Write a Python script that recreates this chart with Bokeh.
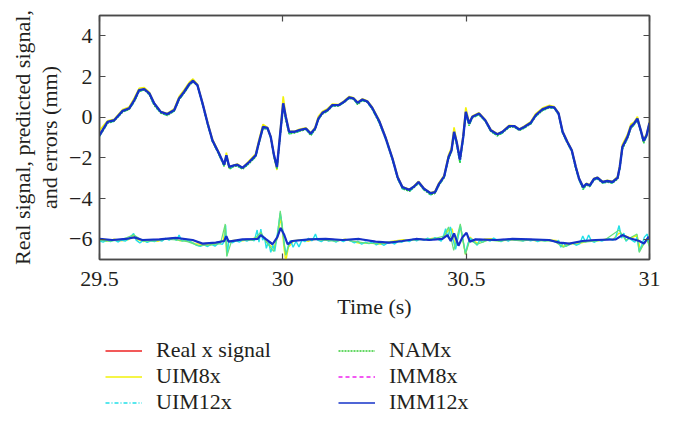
from bokeh.plotting import figure
from bokeh.models import LinearAxis, FixedTicker, Legend, LegendItem, Title, Range1d
from bokeh.layouts import column
from bokeh.embed import file_html
from bokeh.resources import INLINE

# ---------------- data ----------------
x_ticks = [29.5, 30, 30.5, 31]
x_tick_labels = ["29.5", "30", "30.5", "31"]
y_ticks = [-6, -4, -2, 0, 2, 4]
y_tick_labels = ["\u22126", "\u22124", "\u22122", "0", "2", "4"]

t_sig = [29.500, 29.522, 29.540, 29.563, 29.581, 29.595, 29.608, 29.622, 29.636, 29.649,
         29.667, 29.685, 29.704, 29.717, 29.731, 29.745, 29.755, 29.767, 29.781, 29.795,
         29.808, 29.826, 29.840, 29.846, 29.854, 29.867, 29.876, 29.890, 29.908, 29.926,
         29.935, 29.946, 29.958, 29.967, 29.976, 29.984, 29.992, 30.001, 30.008, 30.017,
         30.031, 30.045, 30.063, 30.076, 30.088, 30.097, 30.108, 30.122, 30.135, 30.152,
         30.167, 30.181, 30.193, 30.204, 30.217, 30.231, 30.244, 30.263, 30.281, 30.299,
         30.313, 30.326, 30.345, 30.358, 30.370, 30.385, 30.403, 30.415, 30.426, 30.440,
         30.452, 30.460, 30.467, 30.474, 30.483, 30.492, 30.499, 30.508, 30.517, 30.535,
         30.552, 30.567, 30.585, 30.599, 30.617, 30.631, 30.645, 30.658, 30.676, 30.690,
         30.708, 30.726, 30.740, 30.752, 30.763, 30.776, 30.788, 30.799, 30.808, 30.819,
         30.828, 30.837, 30.849, 30.858, 30.872, 30.885, 30.899, 30.913, 30.919, 30.926,
         30.940, 30.949, 30.958, 30.967, 30.976, 30.984, 30.992, 31.000]

real_x = [-0.89, -0.23, -0.15, 0.31, 0.43, 0.84, 1.33, 1.38, 1.17, 0.68,
          0.26, 0.15, 0.35, 0.92, 1.25, 1.63, 1.79, 1.58, 0.68, -0.31,
          -1.14, -1.79, -2.34, -1.88, -2.45, -2.37, -2.34, -2.49, -2.21, -1.88,
          -1.22, -0.48, -0.53, -0.97, -1.88, -2.45, -0.97, 0.68, 0.02, -0.72,
          -0.72, -0.64, -0.56, -0.81, -0.56, -0.07, 0.21, 0.35, 0.59, 0.59,
          0.76, 0.97, 0.92, 0.71, 0.87, 0.76, 0.45, -0.20, -1.05, -2.04,
          -2.95, -3.44, -3.57, -3.41, -3.19, -3.52, -3.74, -3.69, -3.28, -2.91,
          -1.96, -1.63, -0.72, -1.22, -2.09, -0.97, 0.26, -0.31, 0.02, 0.18,
          -0.15, -0.64, -0.84, -0.72, -0.44, -0.44, -0.61, -0.48, -0.28, 0.10,
          0.38, 0.51, 0.48, 0.18, -0.72, -1.22, -1.63, -2.45, -3.03, -3.44,
          -3.28, -3.36, -3.03, -2.98, -3.19, -3.14, -3.19, -2.98, -2.45, -1.47,
          -0.97, -0.48, -0.31, -0.07, -0.64, -1.17, -0.89, -0.28]

uim8_x = [-0.65, -0.18, -0.10, 0.38, 0.50, 0.95, 1.42, 1.46, 1.22, 0.70,
          0.28, 0.18, 0.42, 1.02, 1.35, 1.72, 1.88, 1.62, 0.72, -0.25,
          -1.08, -1.74, -2.40, -1.75, -2.50, -2.35, -2.30, -2.50, -2.15, -1.80,
          -1.10, -0.35, -0.50, -0.95, -1.95, -2.60, -0.85, 1.02, 0.10, -0.70,
          -0.70, -0.60, -0.52, -0.78, -0.50, 0.05, 0.28, 0.42, 0.64, 0.62,
          0.80, 1.02, 0.95, 0.74, 0.90, 0.80, 0.50, -0.15, -1.00, -2.00,
          -2.90, -3.42, -3.55, -3.38, -3.15, -3.50, -3.72, -3.65, -3.22, -2.85,
          -1.85, -1.50, -0.50, -1.15, -2.00, -0.85, 0.48, -0.25, 0.06, 0.22,
          -0.12, -0.60, -0.82, -0.70, -0.40, -0.42, -0.58, -0.44, -0.22, 0.18,
          0.45, 0.58, 0.52, 0.22, -0.68, -1.18, -1.60, -2.40, -3.00, -3.42,
          -3.25, -3.32, -3.00, -2.95, -3.16, -3.10, -3.15, -2.92, -2.35, -1.35,
          -0.85, -0.35, -0.25, 0.02, -0.60, -1.12, -0.82, -0.22]

uim12_x = [-0.95, -0.30, -0.20, 0.25, 0.38, 0.76, 1.26, 1.34, 1.10, 0.58,
           0.20, 0.08, 0.30, 0.85, 1.18, 1.56, 1.74, 1.55, 0.62, -0.38,
           -1.20, -1.86, -2.42, -1.95, -2.55, -2.42, -2.40, -2.56, -2.28, -1.95,
           -1.30, -0.55, -0.58, -1.02, -1.95, -2.55, -1.08, 0.55, -0.15, -0.82,
           -0.78, -0.70, -0.60, -0.90, -0.62, -0.12, 0.15, 0.30, 0.54, 0.55,
           0.72, 0.92, 0.88, 0.62, 0.82, 0.72, 0.38, -0.28, -1.12, -2.10,
           -3.02, -3.52, -3.65, -3.46, -3.25, -3.58, -3.82, -3.75, -3.34, -2.98,
           -2.05, -1.72, -0.85, -1.35, -2.25, -1.08, 0.15, -0.42, -0.04, 0.12,
           -0.20, -0.70, -0.92, -0.78, -0.50, -0.48, -0.66, -0.54, -0.34, 0.04,
           0.32, 0.46, 0.44, 0.12, -0.80, -1.28, -1.70, -2.55, -3.10, -3.55,
           -3.34, -3.42, -3.08, -3.04, -3.24, -3.20, -3.24, -3.05, -2.55, -1.58,
           -1.05, -0.56, -0.38, -0.14, -0.70, -1.28, -0.96, -0.34]

nam_x = list(uim12_x)
imm8_x = list(real_x)
imm12_x = list(real_x)

t_err_uim12 = [29.500, 29.510, 29.520, 29.530, 29.540, 29.550, 29.560, 29.570, 29.580, 29.593,
               29.600, 29.610, 29.620, 29.630, 29.640, 29.650, 29.660, 29.670, 29.680, 29.690,
               29.700, 29.710, 29.717, 29.725, 29.735, 29.745, 29.755, 29.765, 29.775, 29.785,
               29.795, 29.805, 29.815, 29.825, 29.835, 29.841, 29.844, 29.848, 29.853, 29.862,
               29.872, 29.882, 29.892, 29.902, 29.912, 29.922, 29.930, 29.935, 29.940, 29.945,
               29.950, 29.955, 29.961, 29.967, 29.973, 29.978, 29.983, 29.988, 29.993, 29.998,
               30.004, 30.009, 30.015, 30.021, 30.028, 30.036, 30.044, 30.052, 30.060, 30.070,
               30.080, 30.089, 30.095, 30.105, 30.115, 30.125, 30.135, 30.145, 30.155, 30.165,
               30.175, 30.185, 30.195, 30.205, 30.215, 30.225, 30.235, 30.245, 30.255, 30.265,
               30.275, 30.285, 30.295, 30.305, 30.315, 30.325, 30.335, 30.345, 30.355, 30.365,
               30.375, 30.385, 30.395, 30.405, 30.415, 30.425, 30.432, 30.438, 30.444, 30.450,
               30.457, 30.464, 30.471, 30.478, 30.484, 30.490, 30.498, 30.505, 30.512, 30.520,
               30.530, 30.537, 30.545, 30.555, 30.565, 30.575, 30.585, 30.595, 30.605, 30.615,
               30.625, 30.635, 30.645, 30.655, 30.665, 30.675, 30.685, 30.695, 30.705, 30.715,
               30.725, 30.735, 30.745, 30.752, 30.758, 30.765, 30.772, 30.780, 30.790, 30.800,
               30.810, 30.818, 30.826, 30.834, 30.842, 30.850, 30.860, 30.870, 30.880, 30.890,
               30.900, 30.908, 30.917, 30.924, 30.930, 30.936, 30.944, 30.952, 30.960, 30.966,
               30.972, 30.979, 30.986, 30.994, 31.000]
err_uim12 = [-6.08, -6.15, -6.05, -6.12, -6.02, -6.14, -6.04, -6.10, -5.98, -5.72,
             -6.05, -6.18, -6.06, -6.16, -6.08, -6.12, -6.02, -6.10, -5.96, -6.05,
             -5.92, -6.06, -5.80, -6.10, -6.02, -6.10, -6.20, -6.30, -6.35, -6.28,
             -6.36, -6.25, -6.34, -6.20, -6.26, -6.10, -5.32, -6.80, -6.05, -6.18,
             -6.08, -6.14, -6.02, -6.10, -6.00, -6.08, -5.55, -6.15, -5.50, -6.05,
             -5.90, -6.45, -6.10, -6.65, -6.30, -6.60, -6.00, -5.40, -4.70, -5.30,
             -6.30, -6.75, -6.30, -6.05, -6.40, -6.10, -6.38, -6.05, -6.12, -5.96,
             -6.08, -5.75, -6.05, -6.12, -6.00, -6.10, -6.05, -6.14, -6.04, -6.12,
             -6.02, -6.08, -6.18, -6.10, -6.25, -6.15, -6.22, -6.12, -6.28, -6.18,
             -6.30, -6.20, -6.15, -6.24, -6.10, -6.15, -6.05, -6.12, -6.00, -6.08,
             -5.98, -6.06, -5.95, -6.04, -5.92, -6.02, -6.10, -5.85, -5.48, -5.90,
             -5.40, -6.00, -6.50, -5.90, -5.33, -5.90, -6.70, -6.20, -5.95, -6.10,
             -6.30, -6.05, -6.15, -6.02, -6.10, -5.95, -6.05, -6.12, -6.02, -6.10,
             -5.98, -6.06, -6.02, -6.10, -6.00, -6.08, -6.04, -6.12, -6.05, -6.10,
             -6.02, -6.08, -6.15, -6.05, -6.40, -6.15, -6.35, -6.28, -6.18, -6.30,
             -6.22, -5.85, -6.15, -5.80, -6.10, -6.15, -6.05, -6.10, -6.02, -5.98,
             -6.05, -5.90, -5.33, -5.95, -5.70, -6.10, -5.95, -6.05, -6.15, -5.90,
             -6.60, -6.30, -5.90, -5.75, -6.35]

t_err_uim8 = [29.50, 29.52, 29.54, 29.56, 29.58, 29.593, 29.60, 29.62, 29.64, 29.66,
              29.68, 29.70, 29.72, 29.74, 29.76, 29.78, 29.80, 29.82, 29.838, 29.843,
              29.847, 29.852, 29.87, 29.89, 29.91, 29.93, 29.94, 29.955, 29.965, 29.975,
              29.985, 29.995, 30.003, 30.008, 30.015, 30.03, 30.05, 30.07, 30.09, 30.11,
              30.13, 30.15, 30.17, 30.19, 30.21, 30.23, 30.25, 30.27, 30.29, 30.31,
              30.33, 30.35, 30.37, 30.39, 30.41, 30.43, 30.44, 30.452, 30.462, 30.471,
              30.484, 30.498, 30.51, 30.53, 30.55, 30.57, 30.59, 30.61, 30.63, 30.65,
              30.67, 30.69, 30.71, 30.73, 30.75, 30.765, 30.78, 30.80, 30.82, 30.84,
              30.86, 30.88, 30.90, 30.917, 30.93, 30.95, 30.966, 30.975, 30.992, 31.00]
err_uim8 = [-6.02, -6.10, -6.00, -6.08, -6.02, -5.80, -6.00, -6.12, -6.04, -6.10,
            -6.00, -5.95, -6.08, -6.05, -6.22, -6.25, -6.30, -6.18, -6.05, -5.40,
            -6.70, -6.10, -6.05, -6.08, -6.02, -5.90, -5.75, -6.10, -6.30, -6.45,
            -5.95, -4.90, -6.40, -7.10, -6.40, -6.08, -6.02, -6.10, -6.00, -6.06,
            -6.00, -6.08, -6.00, -6.12, -6.20, -6.18, -6.22, -6.25, -6.12, -6.08,
            -6.02, -6.06, -6.00, -6.02, -5.95, -6.05, -5.85, -5.55, -5.50, -6.45,
            -5.40, -6.75, -5.90, -6.20, -6.00, -5.98, -6.08, -6.05, -6.02, -6.06,
            -6.02, -6.08, -6.05, -6.04, -6.08, -6.35, -6.20, -6.25, -6.15, -6.05,
            -6.08, -6.00, -6.02, -5.70, -5.80, -5.95, -5.80, -6.50, -6.00, -6.30]

t_err_nam = [29.50, 29.53, 29.56, 29.593, 29.62, 29.65, 29.68, 29.71, 29.74, 29.77,
             29.80, 29.83, 29.843, 29.847, 29.86, 29.89, 29.92, 29.94, 29.955, 29.975,
             29.985, 29.993, 30.008, 30.02, 30.05, 30.08, 30.11, 30.14, 30.17, 30.20,
             30.23, 30.26, 30.29, 30.32, 30.35, 30.38, 30.41, 30.44, 30.452, 30.466,
             30.484, 30.498, 30.51, 30.53, 30.56, 30.59, 30.62, 30.65, 30.68, 30.71,
             30.74, 30.765, 30.79, 30.82, 30.85, 30.88, 30.917, 30.935, 30.966, 30.972,
             30.992, 31.00]
err_nam = [-6.06, -6.10, -6.03, -5.78, -6.10, -6.08, -6.00, -6.04, -6.12, -6.32,
           -6.28, -6.22, -5.25, -6.85, -6.10, -6.05, -6.05, -5.65, -6.15, -6.60,
           -5.85, -4.60, -6.80, -6.10, -6.05, -6.00, -6.04, -6.10, -6.04, -6.12,
           -6.20, -6.22, -6.15, -6.12, -6.04, -6.02, -5.98, -5.85, -5.40, -6.55,
           -5.25, -6.75, -6.05, -6.25, -6.05, -6.10, -6.02, -6.08, -6.04, -6.08,
           -6.10, -6.40, -6.20, -6.15, -6.10, -6.02, -5.55, -6.05, -5.75, -6.65,
           -5.98, -6.35]

t_err_imm12 = [29.500, 29.535, 29.572, 29.595, 29.617, 29.663, 29.708, 29.754, 29.781, 29.817,
               29.840, 29.846, 29.852, 29.890, 29.931, 29.940, 29.953, 29.972, 29.985, 29.994,
               30.004, 30.013, 30.026, 30.072, 30.117, 30.163, 30.208, 30.253, 30.290, 30.326,
               30.363, 30.399, 30.435, 30.449, 30.458, 30.467, 30.479, 30.490, 30.501, 30.510,
               30.526, 30.581, 30.626, 30.672, 30.726, 30.754, 30.781, 30.817, 30.853, 30.908,
               30.926, 30.944, 30.972, 30.985, 30.997, 31.000]
err_imm12 = [-5.99, -6.04, -5.99, -5.91, -6.04, -6.01, -5.94, -6.04, -6.22, -6.17,
             -6.09, -5.85, -6.12, -6.01, -5.99, -5.80, -5.99, -6.25, -5.90, -5.45,
             -5.80, -6.25, -6.09, -6.01, -5.99, -6.04, -5.99, -6.12, -6.17, -6.09,
             -5.99, -6.04, -5.99, -5.80, -6.09, -5.72, -6.32, -5.90, -5.69, -6.12,
             -6.01, -6.04, -5.99, -6.01, -6.04, -6.17, -6.22, -6.09, -6.04, -6.01,
             -5.80, -5.94, -6.09, -6.22, -5.90, -5.95]
t_err_imm8 = list(t_err_imm12)
err_imm8 = list(err_imm12)

series_names = ["Real x signal", "UIM8x", "UIM12x", "NAMx", "IMM8x", "IMM12x"]
series_colors = ["#ee2222", "#f2f20a", "#22e0e8", "#33cc33", "#ee22ee", "#1432c8"]
series_widths = [1.6, 1.6, 1.4, 1.4, 1.4, 2.4]
legend_widths = [1.5, 1.5, 1.3, 1.3, 1.3, 1.6]
series_dashes = ["solid", "solid", "4 2 1 2", "2 1", "4 3", "solid"]
signals = [real_x, uim8_x, uim12_x, nam_x, imm8_x, imm12_x]

# ---------------- main figure ----------------
FONT = "Liberation Serif"
TXT = "#231f20"
AX = "#4a4a4a"

p = figure(frame_width=550, frame_height=244, output_backend="svg", toolbar_location=None,
           x_range=Range1d(29.5, 31), y_range=Range1d(-7, 5),
           min_border_left=99, min_border_right=13, min_border_top=15, min_border_bottom=70,
           background_fill_color="white", border_fill_color="white")
p.xgrid.visible = False
p.ygrid.visible = False
p.outline_line_color = AX
p.outline_line_width = 1.5

def style_axis(ax, ticks, labels=None, show_labels=True):
    ax.ticker = FixedTicker(ticks=ticks)
    ax.major_tick_in = 6
    ax.major_tick_out = 0
    ax.minor_tick_line_color = None
    ax.major_tick_line_color = AX
    ax.major_tick_line_width = 1.2
    ax.axis_line_color = AX
    ax.axis_line_width = 1.5
    if show_labels:
        ax.major_label_text_font = FONT
        ax.major_label_text_font_size = "22px"
        ax.major_label_text_color = TXT
        if labels is not None:
            ax.major_label_overrides = {t: l for t, l in zip(ticks, labels)}
    else:
        ax.major_label_text_font_size = "0px"
        ax.major_label_standoff = 0

xa = p.xaxis[0]
style_axis(xa, x_ticks, x_tick_labels)
xa.major_label_standoff = 12
xa.axis_label = "Time (s)"
xa.axis_label_text_font = FONT
xa.axis_label_text_font_size = "22px"
xa.axis_label_text_font_style = "normal"
xa.axis_label_text_color = TXT
xa.axis_label_standoff = 5

ya = p.yaxis[0]
style_axis(ya, y_ticks, y_tick_labels)
ya.major_label_standoff = 7
ya.axis_label = "and errors (mm)"
ya.axis_label_text_font = FONT
ya.axis_label_text_font_size = "22px"
ya.axis_label_text_font_style = "normal"
ya.axis_label_text_color = TXT
ya.axis_label_standoff = 4

top = LinearAxis()
style_axis(top, x_ticks, show_labels=False)
p.add_layout(top, "above")
right = LinearAxis()
style_axis(right, y_ticks, show_labels=False)
p.add_layout(right, "right")

title2 = Title(text="Real signal, predicted signal,", align="center", text_font=FONT,
               text_font_size="22px", text_font_style="normal", text_color=TXT, standoff=0)
p.add_layout(title2, "left")

# signals
for sig, col, w, d in zip(signals, series_colors, series_widths, series_dashes):
    p.line(t_sig, sig, line_color=col, line_width=w, line_dash=d)

# errors
p.line(t_err_uim8, err_uim8, line_color=series_colors[1], line_width=1.4)
p.line(t_err_uim12, err_uim12, line_color=series_colors[2], line_width=1.4)
p.line(t_err_nam, err_nam, line_color="#66e07a", line_width=1.2)
p.line(t_err_imm8, err_imm8, line_color=series_colors[4], line_width=1.2, line_dash="4 3")
p.line(t_err_imm12, err_imm12, line_color=series_colors[5], line_width=2.2)

# ---------------- legend strip (same series, view scrolled off the data) ----------------
lg = figure(width=662, height=88, output_backend="svg", toolbar_location=None,
            x_axis_location=None, y_axis_location=None, min_border=0,
            x_range=Range1d(29.5, 31), y_range=Range1d(20, 21),
            background_fill_color="white", border_fill_color="white")
lg.grid.visible = False
lg.outline_line_color = None
lg_renderers = []
for sig, col, w, d in zip(signals, series_colors, legend_widths, series_dashes):
    lg_renderers.append(lg.line(t_sig, sig, line_color=col, line_width=w, line_dash=d))

items = [LegendItem(label=n, renderers=[r]) for n, r in zip(series_names, lg_renderers)]
legend = Legend(items=items, orientation="vertical", nrows=3, ncols=2,
                location=(6, 2), glyph_width=37, glyph_height=23, label_height=23,
                label_width=182, label_standoff=14, spacing=0, padding=0, margin=0,
                label_text_font=FONT, label_text_font_size="22px", label_text_color=TXT,
                border_line_color=None, background_fill_alpha=0)
lg.add_layout(legend, "center")

layout = column(p, lg, spacing=0)
open("out.html", "w").write(file_html(layout, INLINE))
